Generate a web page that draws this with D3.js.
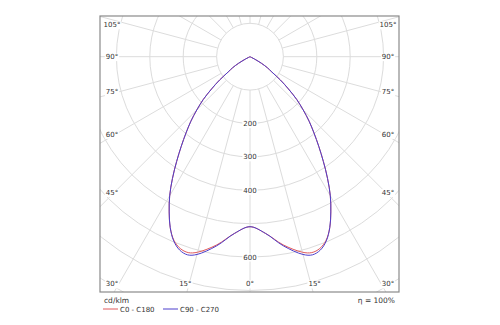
<!DOCTYPE html>
<html><head><meta charset="utf-8">
<script src="https://cdn.jsdelivr.net/npm/d3@7"></script>
<style>body{margin:0;background:#fff}svg{display:block}text{font-family:"DejaVu Sans",Verdana,sans-serif;fill:#333}</style>
</head><body>
<svg id="c" width="500" height="325"></svg>
<script>
// gamma angles (deg), intensities in cd/klm
const angles = [0,5,10,15,17.5,20,22.5,25,27.5,30,32.5,35,37.5,40,42.5,45,47.5,50,52.5,55,57.5,60,62.5,65];
const c0c180 = [509,531,572,606,615,611,595,565,524,481,432,383,338,298,262,225,190,150,115,80,62,40,15,0];
const c90c270 = [509,531,575,613,622,616,597,565,524,481,432,383,338,298,262,225,190,150,115,80,62,40,15,0];
const ringValues = [100,200,300,400,500,600,700,800];
const ringLabels = [200,300,400,600];
const spokeAngles = d3.range(0,181,15);
const leftLabels = [105,90,75,60,45,30,15,0];
const rightLabels = [15,30,45,60,75,90,105];
const seriesNames = ["C0 - C180","C90 - C270"];
const unitLabel = "cd/klm";
const effLabel = "η = 100%";

const svg = d3.select("#c");
const box = {x0:100,y0:16,x1:399,y1:292};
const cx = 250, cy = 56.7;
const r = d3.scaleLinear().domain([0,100]).range([0,33.4]);
const colors = ["#e05a5c","#4d3fcc"];
const grid = "#dcdcdc";

svg.append("defs").append("clipPath").attr("id","clip")
  .append("rect").attr("x",box.x0).attr("y",box.y0).attr("width",box.x1-box.x0).attr("height",box.y1-box.y0);

const g = svg.append("g").attr("clip-path","url(#clip)");
// rings
g.selectAll("circle.ring").data(ringValues).join("circle")
  .attr("cx",cx).attr("cy",cy).attr("r",d=>r(d))
  .attr("fill","none").attr("stroke",grid).attr("stroke-width",1);
// spokes (angle measured from downward vertical)
const spokes = [];
spokeAngles.forEach(a=>{ spokes.push(a); if(a>0 && a<180) spokes.push(-a); });
g.selectAll("line.spoke").data(spokes).join("line")
  .attr("x1",d=>cx+r(100)*Math.sin(d*Math.PI/180))
  .attr("y1",d=>cy+r(100)*Math.cos(d*Math.PI/180))
  .attr("x2",d=>cx+r(1000)*Math.sin(d*Math.PI/180))
  .attr("y2",d=>cy+r(1000)*Math.cos(d*Math.PI/180))
  .attr("stroke",grid).attr("stroke-width",1);

// curves
function pts(vals){
  const p=[];
  for(let i=angles.length-1;i>=0;i--) p.push({a:Math.PI+angles[i]*Math.PI/180, v:vals[i]});
  for(let i=1;i<angles.length;i++) p.push({a:Math.PI-angles[i]*Math.PI/180, v:vals[i]});
  return p;
}
const line = d3.lineRadial().angle(d=>d.a).radius(d=>r(d.v)).curve(d3.curveCatmullRom.alpha(0.5));
[c0c180,c90c270].forEach((s,i)=>{
  svg.append("path").attr("transform",`translate(${cx},${cy})`)
    .attr("d",line(pts(s))).attr("fill","none").attr("stroke",colors[i]).attr("stroke-width",1);
});

// ring labels with white background
ringLabels.forEach(v=>{
  const y = cy + r(v);
  const t = svg.append("text").attr("x",cx).attr("y",y).attr("dy","0.35em")
    .attr("text-anchor","middle").attr("font-size",7).text(v);
  const bb = t.node().getBBox();
  svg.insert("rect","text").attr("x",bb.x-1).attr("y",bb.y).attr("width",bb.width+2).attr("height",bb.height).attr("fill","#fff");
});

// degree labels
function labelPos(a, side){
  const rad = a*Math.PI/180;
  const sx = side<0?-1:1;
  if(a>=45){
    const x = side<0?112:388;
    let y = cy + Math.abs(x-cx)/Math.tan(rad) - 2;
    if(a===90) y = cy;
    y = Math.max(y,25);
    return [x,y];
  } else {
    const y = 284;
    let x = cx + sx*(298-cy)*Math.tan(rad);
    x = Math.max(112, Math.min(388, x));
    return [x,y];
  }
}
const degLabels = leftLabels.map(a=>({a,side:-1})).concat(rightLabels.map(a=>({a,side:1})));
degLabels.forEach(d=>{
  const [x,y] = labelPos(d.a,d.side);
  const t = svg.append("text").attr("x",x).attr("y",y).attr("dy","0.35em")
    .attr("text-anchor","middle").attr("font-size",7).text(d.a+"°");
  const bb = t.node().getBBox();
  svg.insert("rect","text").attr("x",bb.x-1).attr("y",bb.y).attr("width",bb.width+2).attr("height",bb.height).attr("fill","#fff");
});

// frame
svg.append("rect").attr("x",box.x0).attr("y",box.y0).attr("width",box.x1-box.x0).attr("height",box.y1-box.y0)
  .attr("fill","none").attr("stroke","#8a8a8a").attr("stroke-width",1.2);

// legend
svg.append("text").attr("x",104).attr("y",303).attr("font-size",7.5).text(unitLabel);
svg.append("text").attr("x",395).attr("y",303).attr("text-anchor","end").attr("font-size",7.5).text(effLabel);
const lx = [103,163];
seriesNames.forEach((n,i)=>{
  svg.append("line").attr("x1",lx[i]).attr("x2",lx[i]+15).attr("y1",309).attr("y2",309)
    .attr("stroke",colors[i]).attr("stroke-width",1);
  svg.append("text").attr("x",lx[i]+17).attr("y",311.5).attr("font-size",7).text(n);
});
</script>
</body></html>
